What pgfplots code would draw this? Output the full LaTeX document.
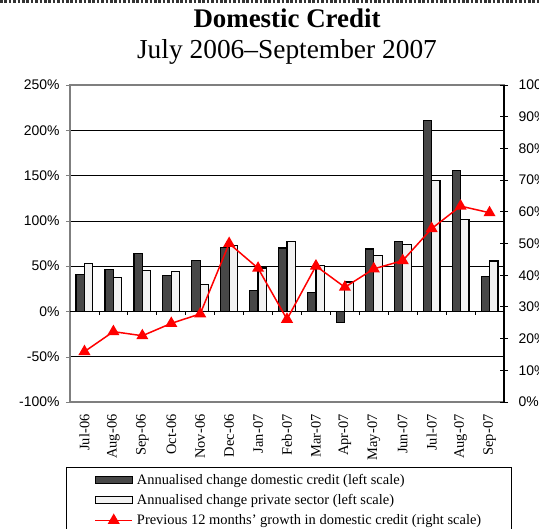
\documentclass[border=0pt]{standalone}
\usepackage{fontspec}
\setmainfont{Liberation Serif}
\setsansfont{Liberation Sans}
\usepackage{pgfplots}
\pgfplotsset{compat=1.18}

\definecolor{darkbar}{HTML}{474747}
\definecolor{lightbar}{HTML}{F2F2F2}
\definecolor{frame}{HTML}{7F7F7F}

% Jul-06 ... Sep-07 at x = 0..14
\def\months{Jul-06,Aug-06,Sep-06,Oct-06,Nov-06,Dec-06,Jan-07,Feb-07,Mar-07,Apr-07,May-07,Jun-07,Jul-07,Aug-07,Sep-07}

\pgfplotsset{
  base/.style={
    scale only axis, width=434bp, height=317bp,
    at={(0,0)}, anchor=south west,
    xmin=-0.5, xmax=14.5,
    /pgf/number format/assume math mode=true,
    yticklabel={\pgfmathprintnumber{\tick}\%},
    yticklabel style={font=\fontsize{14}{16}\selectfont\sffamily},
  },
  barleg/.style={legend image code/.code={
    \path (0bp,0bp) (39bp,0bp);
    \draw[##1] (0bp,-3.5bp) rectangle (37bp,3.5bp);}},
  lineleg/.style={legend image code/.code={
    \path (0bp,0bp) (39bp,0bp);
    \draw[##1, sharp plot, mark=none] (0bp,0bp) -- (37bp,0bp);
    \draw[##1, only marks] plot coordinates {(18.5bp,0bp)};}},
}

\begin{document}
\begin{tikzpicture}
\begin{axis}[base,
  ybar=0pt, bar width=8.4bp,
  ymin=-100, ymax=250, ytick={-100,-50,...,250},
  ytick pos=left, tick align=outside, major tick length=4bp,
  yticklabel style={xshift=-3bp},
  ymajorgrids, grid style={black, line width=0.6bp},
  axis line style={frame, line width=1.2bp},
  xtick={0,...,14}, xticklabels/.expanded=\months,
  xtick pos=bottom, x tick style={draw=none},
  xticklabel style={font=\fontsize{14.5}{16}\selectfont, rotate=90, anchor=east, xshift=-5bp},
  legend style={at={(-0.009,-0.205)}, anchor=north west, draw=black, line width=0.8bp,
    inner xsep=28bp, inner ysep=5bp, row sep=4.5bp,
    font=\fontsize{14.5}{16}\selectfont, cells={anchor=west}},
  legend cell align=left,
]
\addplot[draw=black, line width=1.2bp, fill=darkbar, barleg] coordinates {
  (0,41) (1,46.7) (2,64) (3,40) (4,56.3) (5,71) (6,23) (7,70)
  (8,20.7) (9,-12.2) (10,68.9) (11,77.4) (12,210.7) (13,156) (14,38.9)};
\addlegendentry{Annualised change domestic credit (left scale)}
\addplot[draw=black, line width=1.2bp, fill=lightbar, barleg] coordinates {
  (0,52.6) (1,37.4) (2,45.6) (3,44.4) (4,30) (5,72.6) (6,48) (7,77)
  (8,50.4) (9,32.6) (10,61.5) (11,74) (12,144.8) (13,101.9) (14,55.6)};
\addlegendentry{Annualised change private sector (left scale)}
\addlegendimage{red, line width=1.5bp, mark=triangle*, mark size=5.5bp, lineleg}
\addlegendentry{Previous 12 months' growth in domestic credit (right scale)}
% zero line with ticks between months
\draw[black, line width=1bp] (axis cs:-0.5,0) -- (axis cs:14.5,0);
\pgfplotsinvokeforeach{0.5,1.5,...,13.5}{
  \draw[black, line width=0.8bp] (axis cs:#1,0) -- ++(0pt,-3.5bp);}
\end{axis}

\begin{axis}[base,
  ymin=0, ymax=100, ytick={0,10,...,100},
  axis x line=none, axis y line*=right,
  y axis line style={black, line width=1.2bp, -},
  tick align=center, major tick length=8bp,
  y tick style={black, line width=0.8bp},
  yticklabel style={xshift=7bp},
]
\addplot[red, line width=1.5bp, mark=triangle*, mark size=5.5bp] coordinates {
  (0,15.9) (1,22.2) (2,20.9) (3,24.8) (4,27.8) (5,50) (6,42.2) (7,26.1)
  (8,42.9) (9,36.2) (10,42) (11,44.6) (12,54.7) (13,61.8) (14,59.7)};
\end{axis}

\node[anchor=base, font=\fontsize{27}{30}\selectfont\bfseries] at (217bp,374bp) {Domestic Credit};
\node[anchor=base, font=\fontsize{27.5}{30}\selectfont] at (217bp,343bp) {July 2006--September 2007};
\draw[black!80, line width=2.6bp, dash pattern=on 2.6bp off 1.8bp] (-70bp,400.7bp) -- (469bp,400.7bp);

\pgfresetboundingbox
\path[use as bounding box] (-70bp,-127bp) rectangle (469bp,402bp);
\end{tikzpicture}
\end{document}
